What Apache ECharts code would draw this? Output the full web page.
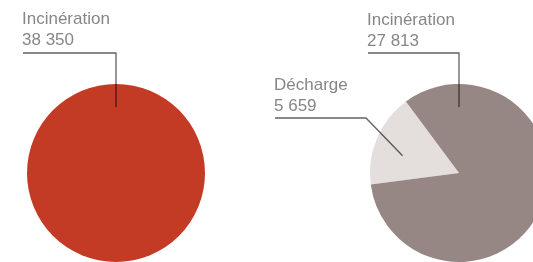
<!DOCTYPE html>
<html>
<head>
<meta charset="utf-8">
<script src="https://cdn.jsdelivr.net/npm/echarts@6/dist/echarts.min.js"></script>
<style>
  html, body { margin: 0; padding: 0; background: #fff; }
  #chart { width: 533px; height: 262px; }
</style>
</head>
<body>
<div id="chart"></div>
<script>
// données
const leftNames = ['Incinération'];
const leftValues = [38350];
const rightNames = ['Décharge', 'Incinération'];
const rightValues = [5659, 27813];

const colorsLeft = ['#c33a25'];
const colorsRight = ['#e4dedd', '#978784'];

const R = 89;
const leftCenter = [116, 173];
const rightCenter = [459, 173];

// placement des étiquettes : position du texte, ancre polaire, coude
const leftLabels = [
  { x: 22, y: 9, angle: 90, r: 66, lineY: 53 }
];
const rightLabels = [
  { x: 274, y: 75, angle: 163, r: 59, lineY: 118, elbowX: 366 },
  { x: 367, y: 10, angle: 90, r: 66, lineY: 53 }
];

const fmt = v => String(v).replace(/\B(?=(\d{3})+(?!\d))/g, ' ');

function polar(c, a, r) {
  const rad = a * Math.PI / 180;
  return [c[0] + r * Math.cos(rad), c[1] - r * Math.sin(rad)];
}

function makeLayout(center, conf) {
  return function (params) {
    const c = conf[params.dataIndex];
    const p0 = polar(center, c.angle, c.r);
    const elbowX = c.elbowX !== undefined ? c.elbowX : p0[0];
    return {
      x: c.x,
      y: c.y,
      align: 'left',
      verticalAlign: 'top',
      labelLinePoints: [p0, [elbowX, c.lineY], [c.x + 1, c.lineY]]
    };
  };
}

const labelStyle = {
  show: true,
  position: 'outside',
  formatter: p => p.name + '\n' + fmt(p.value),
  color: '#868686',
  fontFamily: 'Liberation Sans',
  fontSize: 17,
  lineHeight: 21,
  align: 'left'
};
const lineStyle = {
  show: true,
  lineStyle: { color: 'rgba(0,0,0,0.62)', width: 1.3 }
};

function basePie(center, names, values, colors, start) {
  return {
    type: 'pie',
    center: center,
    radius: R,
    startAngle: start,
    avoidLabelOverlap: false,
    silent: true,
    data: names.map((n, i) => ({ name: n, value: values[i], itemStyle: { color: colors[i] } })),
    label: { show: false },
    labelLine: { show: false }
  };
}

// pie transparente au-dessus, pour que les traits passent sur les secteurs
function labelPie(center, names, values, start, conf) {
  return {
    type: 'pie',
    z: 5,
    center: center,
    radius: R,
    startAngle: start,
    avoidLabelOverlap: false,
    silent: true,
    data: names.map((n, i) => ({ name: n, value: values[i] })),
    itemStyle: { color: 'rgba(0,0,0,0)' },
    label: labelStyle,
    labelLine: lineStyle,
    labelLayout: makeLayout(center, conf)
  };
}

const chart = echarts.init(document.getElementById('chart'));
chart.setOption({
  animation: false,
  series: [
    basePie(leftCenter, leftNames, leftValues, colorsLeft, 270),
    basePie(rightCenter, rightNames, rightValues, colorsRight, 187.5),
    labelPie(leftCenter, leftNames, leftValues, 270, leftLabels),
    labelPie(rightCenter, rightNames, rightValues, 187.5, rightLabels)
  ]
});
</script>
</body>
</html>
